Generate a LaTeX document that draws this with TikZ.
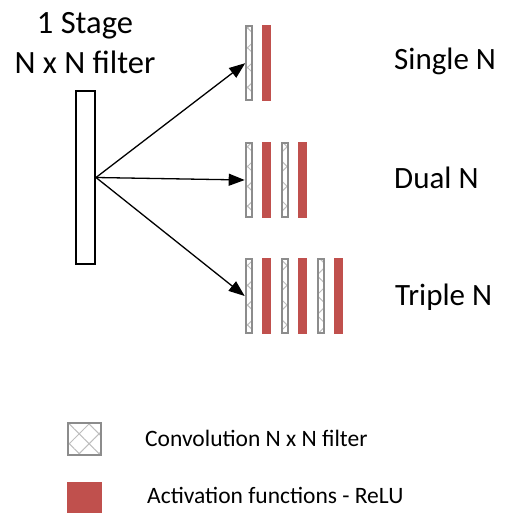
\documentclass[tikz,border=0pt]{standalone}
\usepackage{fontspec}
\setmainfont{Carlito}
\usetikzlibrary{patterns.meta,arrows.meta}
\definecolor{relured}{HTML}{C0504D}
\definecolor{convgray}{HTML}{8C8C8C}
\definecolor{hatchgray}{HTML}{BEBEBE}
\tikzset{
  convstrip/.style={draw=convgray, line width=2pt, inner sep=0pt,
    minimum width=6pt, minimum height=74pt,
    pattern={Hatch[angle=45,distance=14pt,line width=1pt]}, pattern color=hatchgray},
  redstrip/.style={fill=relured, draw=none, inner sep=0pt,
    minimum width=9pt, minimum height=76pt},
  bigbox/.style={draw=black, line width=2pt, inner sep=0pt,
    minimum width=19.3pt, minimum height=173pt},
  arr/.style={line width=1.3pt, -{Triangle[length=16pt,width=12pt]}},
  title/.style={font=\fontsize{32.5}{39}\selectfont, inner sep=0pt, anchor=base},
  rowlabel/.style={font=\fontsize{31}{37}\selectfont, inner sep=0pt, anchor=base west},
  legtext/.style={font=\fontsize{23.5}{28}\selectfont, inner sep=0pt, anchor=base west},
}
\begin{document}
\begin{tikzpicture}[x=1pt,y=-1pt]
\useasboundingbox (0,0) rectangle (504,513);
% title
\node[title] (t1) at (85,33.3) {1 Stage};
\node[title] (t2) at (85,73.3) {N x N filter};
% big box
\node[bigbox] (big) at (85.35,177.5) {};
% single
\node[convstrip] (s1c) at (248.7,63.2) {};
\node[redstrip] (s1r) at (266.8,63.2) {};
% dual
\node[convstrip] (d1c) at (248.7,180) {};
\node[redstrip] (d1r) at (266.5,180) {};
\node[convstrip] (d2c) at (284.9,180) {};
\node[redstrip] (d2r) at (302.5,180) {};
% triple
\node[convstrip] (r1c) at (248.7,296) {};
\node[redstrip] (r1r) at (266.5,296) {};
\node[convstrip] (r2c) at (284.7,296) {};
\node[redstrip] (r2r) at (302.5,296) {};
\node[convstrip] (r3c) at (320.5,296) {};
\node[redstrip] (r3r) at (338.5,296) {};
% arrows
\draw[arr] (big.east) -- (s1c.west);
\draw[arr] (big.east) -- (d1c.west);
\draw[arr] (big.east) -- (r1c.west);
% row labels
\node[rowlabel] (l1) at (394,69.3) {Single N};
\node[rowlabel] (l2) at (394,188.5) {Dual N};
\node[rowlabel] (l3) at (395,305.7) {Triple N};
% legend
\node[convstrip, minimum width=33.3pt, minimum height=32.3pt] (lc) at (84.35,438.85) {};
\node[redstrip, minimum width=35.3pt, minimum height=32pt, anchor=north west] (lr) at (66.7,481.7) {};
\node[legtext] (lt1) at (145,446.7) {Convolution N x N filter};
\node[legtext] (lt2) at (147,503) {Activation functions - ReLU};
\end{tikzpicture}
\end{document}
